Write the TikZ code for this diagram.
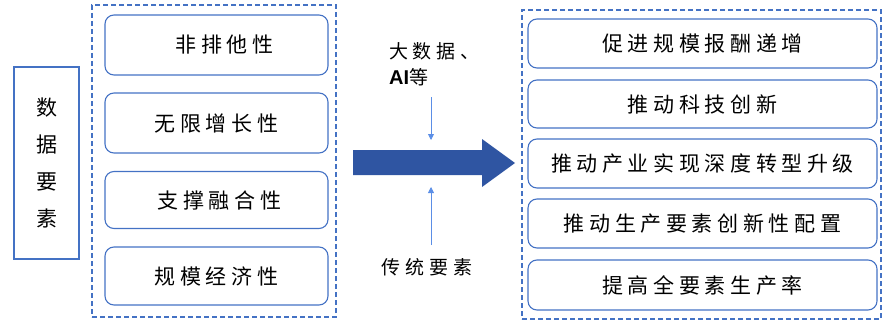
\documentclass[tikz,border=0pt]{standalone}
\usepackage{fontspec}
\usetikzlibrary{arrows.meta}
\newfontfamily\cjk[LetterSpace=22]{Noto Sans CJK SC}
\newfontfamily\cjkl[LetterSpace=25]{Noto Sans CJK SC}
\newfontfamily\cjkv{Noto Sans CJK SC}
\newfontfamily\latinb{Liberation Sans}
\definecolor{boxblue}{HTML}{4472C4}
\definecolor{arrowblue}{HTML}{2F55A2}
\definecolor{thinblue}{HTML}{5B8EE6}
\tikzset{
  group/.style={draw=boxblue, line width=1.1pt, dash pattern=on 5pt off 3pt},
  item/.style={draw=boxblue, line width=1.1pt, rounded corners=9pt, inner sep=0pt,
    font=\cjk\fontsize{21}{24}\selectfont, text=black},
  thin/.style={draw=thinblue, line width=0.8pt, -{Triangle[length=6pt,width=6pt]}},
  lbl/.style={font=\cjkl\fontsize{19}{26}\selectfont, text=black, inner sep=0pt}
}
\begin{document}
\begin{tikzpicture}[x=1pt,y=-1pt]
\useasboundingbox (0,0) rectangle (882,321);
% left vertical box
\node[draw=boxblue, line width=1.1pt, minimum width=65pt, minimum height=192pt, inner sep=0pt,
  font=\cjkv\fontsize{21}{37}\selectfont, align=center] (data) at (46.5,163) {数\\据\\要\\素};
% left group
\node[group, minimum width=244pt, minimum height=312pt, inner sep=0pt] (lg) at (214,161) {};
\node[item, minimum width=223pt, minimum height=60pt] (l1) at (216.5,45) {\hspace{16pt}非排他性};
\node[item, minimum width=223pt, minimum height=60pt] (l2) at (216.5,123) {无限增长性};
\node[item, minimum width=223pt, minimum height=57pt] (l3) at (216.5,200) {\hspace{6pt}支撑融合性};
\node[item, minimum width=223pt, minimum height=58pt] (l4) at (216.5,276) {规模经济性};
% right group
\node[group, minimum width=359pt, minimum height=309pt, inner sep=0pt] (rg) at (701.5,164.5) {};
\node[item, minimum width=349pt, minimum height=49pt] (r1) at (702.5,43.5) {促进规模报酬递增};
\node[item, minimum width=349pt, minimum height=48pt] (r2) at (702.5,104) {推动科技创新};
\node[item, minimum width=349pt, minimum height=49pt] (r3) at (702.5,163.5) {推动产业实现深度转型升级};
\node[item, minimum width=349pt, minimum height=49pt] (r4) at (702.5,223.5) {推动生产要素创新性配置};
\node[item, minimum width=349pt, minimum height=50pt] (r5) at (702.5,285) {提高全要素生产率};
% big arrow
\fill[arrowblue] (353,150) -- (482,150) -- (482,139) -- (515,163) -- (482,187) -- (482,175) -- (353,175) -- cycle;
\coordinate (atop) at (431,140);
\coordinate (abot) at (431,187);
% labels
\node[lbl, anchor=west, align=left] (ai) at (389,64) {大数据、\\{\latinb\bfseries\fontsize{20}{26}\selectfont AI}等};
\node[lbl] (trad) at (427,267) {传统要素};
\coordinate (s1) at (431,97);
\coordinate (s2) at (431,245);
\draw[thin] (s1) -- (atop);
\draw[thin] (s2) -- (abot);
\end{tikzpicture}
\end{document}
